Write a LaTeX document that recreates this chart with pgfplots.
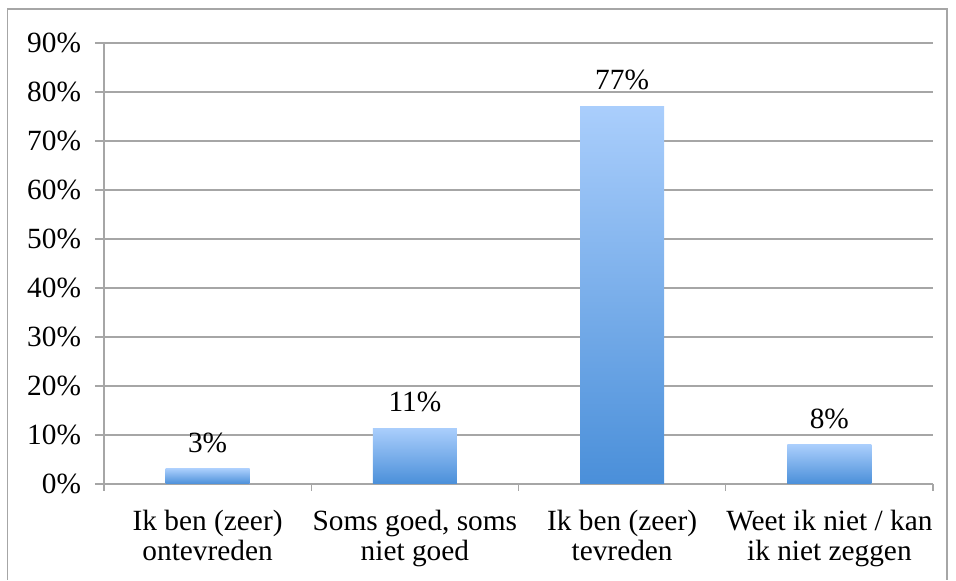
\documentclass[border=0pt]{standalone}
\usepackage{fontspec}
\setmainfont{Liberation Serif}
\usepackage{pgfplots}
\pgfplotsset{compat=1.18}

\definecolor{gridgray}{HTML}{A6A6A6}
\definecolor{bartop}{HTML}{AACEFC}
\definecolor{barbottom}{HTML}{4A8FD9}

\newcommand{\chartfont}{\fontsize{22}{23}\selectfont}

\begin{document}
\begin{tikzpicture}[x=1pt,y=1pt]
\begin{axis}[
  at={(0,0)}, anchor=south west,
  scale only axis,
  width=621.75pt, height=330.75pt,
  xmin=-0.5, xmax=3.5,
  ymin=0, ymax=90,
  ytick={0,10,...,90},
  yticklabel={\pgfmathprintnumber{\tick}\%},
  xtick={0,1,2,3},
  xticklabels={{Ik ben (zeer)\\ontevreden},{Soms goed, soms\\niet goed},{Ik ben (zeer)\\tevreden},{Weet ik niet / kan\\ik niet zeggen}},
  minor xtick={-0.5,0.5,1.5,2.5,3.5},
  xticklabel style={align=center, font=\chartfont, yshift=-9pt},
  yticklabel style={font=\chartfont, xshift=-7pt},
  /pgf/number format/assume math mode=true,
  tick align=outside,
  major x tick style={draw=none},
  minor x tick style={draw=gridgray, line width=1pt},
  major tick length=6.75pt,
  minor tick length=5.25pt,
  y tick style={draw=gridgray, line width=1pt},
  ymajorgrids,
  grid style={draw=gridgray, line width=1pt},
  axis x line*=bottom,
  axis y line*=left,
  axis line style={draw=gridgray, line width=1pt, -},
  ybar, bar width=63pt, bar shift=0pt,
  every axis plot/.append style={draw=none, top color=bartop, bottom color=barbottom},
  nodes near coords={\pgfmathprintnumber[fixed,precision=0]{\pgfplotspointmeta}\%},
  every node near coord/.append style={font=\chartfont, text=black, anchor=center, yshift=19.5pt},
  clip=false,
]
% one plot per bar, so that every bar gets its own gradient
\addplot coordinates {(0,3.1)};
\addplot coordinates {(1,11.4)};
\addplot coordinates {(2,77.1)};
\addplot coordinates {(3,8.0)};
\end{axis}
% outer chart frame
\draw[gridgray, line width=0.9pt] (-72.4pt,-72pt) -- (-72.4pt,356.25pt) -- (632.25pt,356.25pt) -- (632.25pt,-72pt);
\useasboundingbox (-78pt,-71.25pt) rectangle (639pt,363pt);
\end{tikzpicture}
\end{document}
